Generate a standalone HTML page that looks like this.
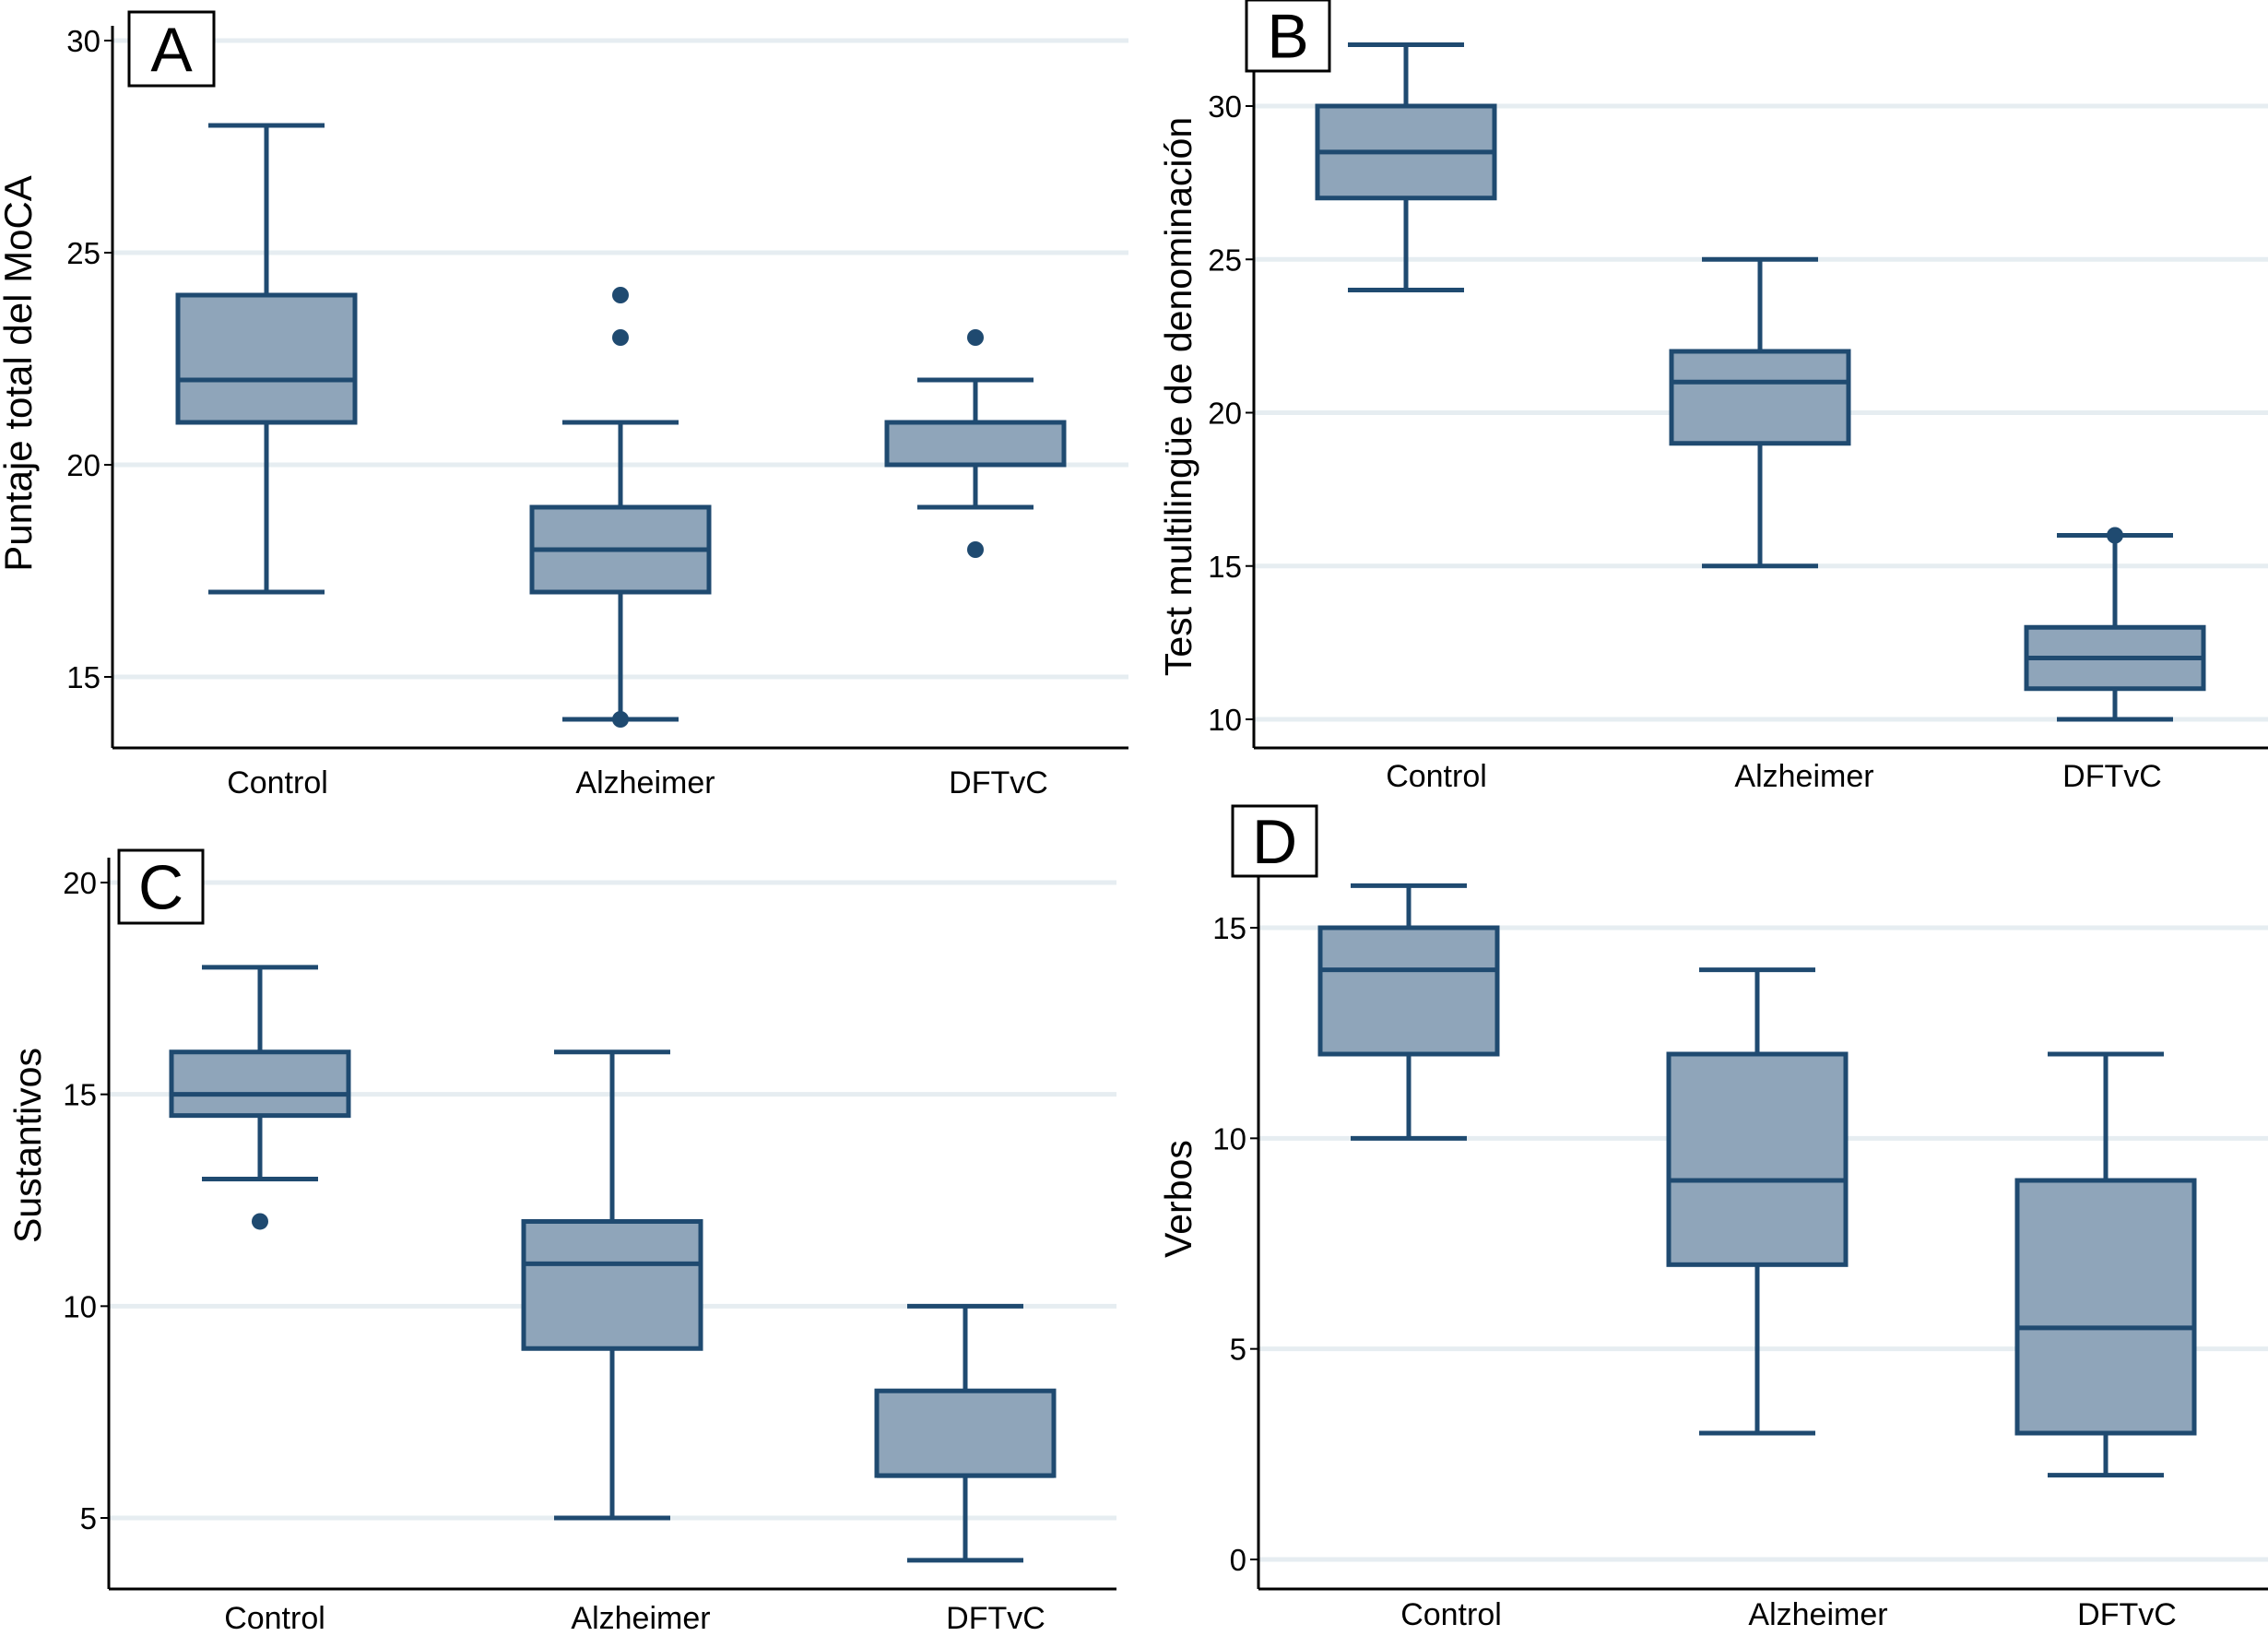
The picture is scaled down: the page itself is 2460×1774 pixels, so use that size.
<!DOCTYPE html>
<html><head><meta charset="utf-8"><style>
html,body{margin:0;padding:0;background:#fff}
svg{display:block}
text{font-family:"Liberation Sans",sans-serif;fill:#000}
</style></head><body>
<svg id="chart" width="2460" height="1774" viewBox="0 0 2460 1774" xmlns="http://www.w3.org/2000/svg"></svg>
<script>
const categories = ["Control","Alzheimer","DFTvC"];
// [lowWhisker, q1, median, q3, highWhisker]
const statsA = [[17,21,22,24,28],[14,17,18,19,21],[19,20,20,21,22]];
const outliersA = [[],[24,23,14],[23,18]];
const statsB = [[24,27,28.5,30,32],[15,19,21,22,25],[10,11,12,13,16]];
const outliersB = [[],[],[16]];
const statsC = [[13,14.5,15,16,18],[5,9,11,12,16],[4,6,6,8,10]];
const outliersC = [[12],[],[]];
const statsD = [[10,12,14,15,16],[3,7,9,12,14],[2,3,5.5,9,12]];
const outliersD = [[],[],[]];
const ticksA = [15,20,25,30], ticksB = [10,15,20,25,30], ticksC = [5,10,15,20], ticksD = [0,5,10,15];

const NS = "http://www.w3.org/2000/svg";
const svg = document.getElementById('chart');
function mk(tag, attrs, parent){
  const e = document.createElementNS(NS, tag);
  for (const k in attrs) e.setAttribute(k, attrs[k]);
  (parent||svg).appendChild(e); return e;
}
const STROKE="#1f4a70", FILL="#8fa5ba";
const panels = [
 {id:"a", letter:"A", title:"Puntaje total del MoCA", stats:statsA, out:outliersA, ticks:ticksA,
  ax:122, top:28, bottom:811, right:1224, v0:30, y0:44, v1:15, y1:734, centers:[289,673,1058], labX:[301,700,1083], labY:860,
  lb:[140,13,92,80], titleX:34, titleY:405, tsize:42},
 {id:"b", letter:"B", title:"Test multilingüe de denominación", stats:statsB, out:outliersB, ticks:ticksB,
  ax:1360, top:15, bottom:811, right:2460, v0:30, y0:115, v1:10, y1:780, centers:[1525,1909,2294], labX:[1558,1957,2291], labY:853,
  lb:[1352,0,90,77], titleX:1292, titleY:430, tsize:41},
 {id:"c", letter:"C", title:"Sustantivos", stats:statsC, out:outliersC, ticks:ticksC,
  ax:118, top:930, bottom:1723, right:1211, v0:20, y0:957, v1:5, y1:1646, centers:[282,664,1047], labX:[298,695,1080], labY:1766,
  lb:[129,922,91,79], titleX:44, titleY:1242, tsize:41},
 {id:"d", letter:"D", title:"Verbos", stats:statsD, out:outliersD, ticks:ticksD,
  ax:1365, top:915, bottom:1723, right:2460, v0:15, y0:1006, v1:0, y1:1691, centers:[1528,1906,2284], labX:[1574,1972,2307], labY:1762,
  lb:[1337,874,91,76], titleX:1292, titleY:1300, tsize:41}
];
panels.forEach(p=>{
  const g = mk('g',{});
  
  
  const y = v => p.y0 + (v-p.v0)*(p.y1-p.y0)/(p.v1-p.v0);
  p.ticks.forEach(t=>{
    const gl = mk('line',{x1:p.ax,x2:p.right,y1:y(t),y2:y(t),stroke:"#e6edf1","stroke-width":5},g);
    
    
    mk('line',{x1:p.ax-9,x2:p.ax,y1:y(t),y2:y(t),stroke:"#000","stroke-width":2},g);
    const tl = mk('text',{x:p.ax-13,y:y(t)+12,"text-anchor":"end","font-size":33},g);
    tl.textContent = t;
    
    
  });
  const yaxis = mk('line',{x1:p.ax,x2:p.ax,y1:p.top,y2:p.bottom,stroke:"#000","stroke-width":3},g);
  
  
  const xaxis = mk('line',{x1:p.ax,x2:p.right,y1:p.bottom,y2:p.bottom,stroke:"#000","stroke-width":3},g);
  
  
  const yt = mk('text',{x:0,y:0,"text-anchor":"middle","font-size":p.tsize,transform:`translate(${p.titleX},${p.titleY}) rotate(-90)`},g);
  yt.textContent = p.title;
  
  
  p.stats.forEach((s,i)=>{
    const cx = p.centers[i], hw=96, cw=63;
    const bg = mk('g',{fill:"none",stroke:STROKE,"stroke-width":5},g);
    
    
    mk('line',{x1:cx,x2:cx,y1:y(s[0]),y2:y(s[1])},bg);
    mk('line',{x1:cx,x2:cx,y1:y(s[3]),y2:y(s[4])},bg);
    mk('line',{x1:cx-cw,x2:cx+cw,y1:y(s[0]),y2:y(s[0])},bg);
    mk('line',{x1:cx-cw,x2:cx+cw,y1:y(s[4]),y2:y(s[4])},bg);
    mk('rect',{x:cx-hw,y:y(s[3]),width:2*hw,height:y(s[1])-y(s[3]),fill:FILL},bg);
    mk('line',{x1:cx-hw,x2:cx+hw,y1:y(s[2]),y2:y(s[2])},bg);
    p.out[i].forEach(o=>{
      const c = mk('circle',{cx:cx,cy:y(o),r:9,fill:STROKE,stroke:"none"},g);
      
      
    });
    const xl = mk('text',{x:p.labX[i],y:p.labY,"text-anchor":"middle","font-size":34},g);
    xl.textContent = categories[i];
    
    
  });
  const lb = mk('rect',{x:p.lb[0],y:p.lb[1],width:p.lb[2],height:p.lb[3],fill:"#fff",stroke:"#000","stroke-width":3},g);
  
  
  const lt = mk('text',{x:p.lb[0]+p.lb[2]/2,y:p.lb[1]+p.lb[3]/2+24,"text-anchor":"middle","font-size":68},g);
  lt.textContent = p.letter;
  
  
});
</script>
</body></html>
